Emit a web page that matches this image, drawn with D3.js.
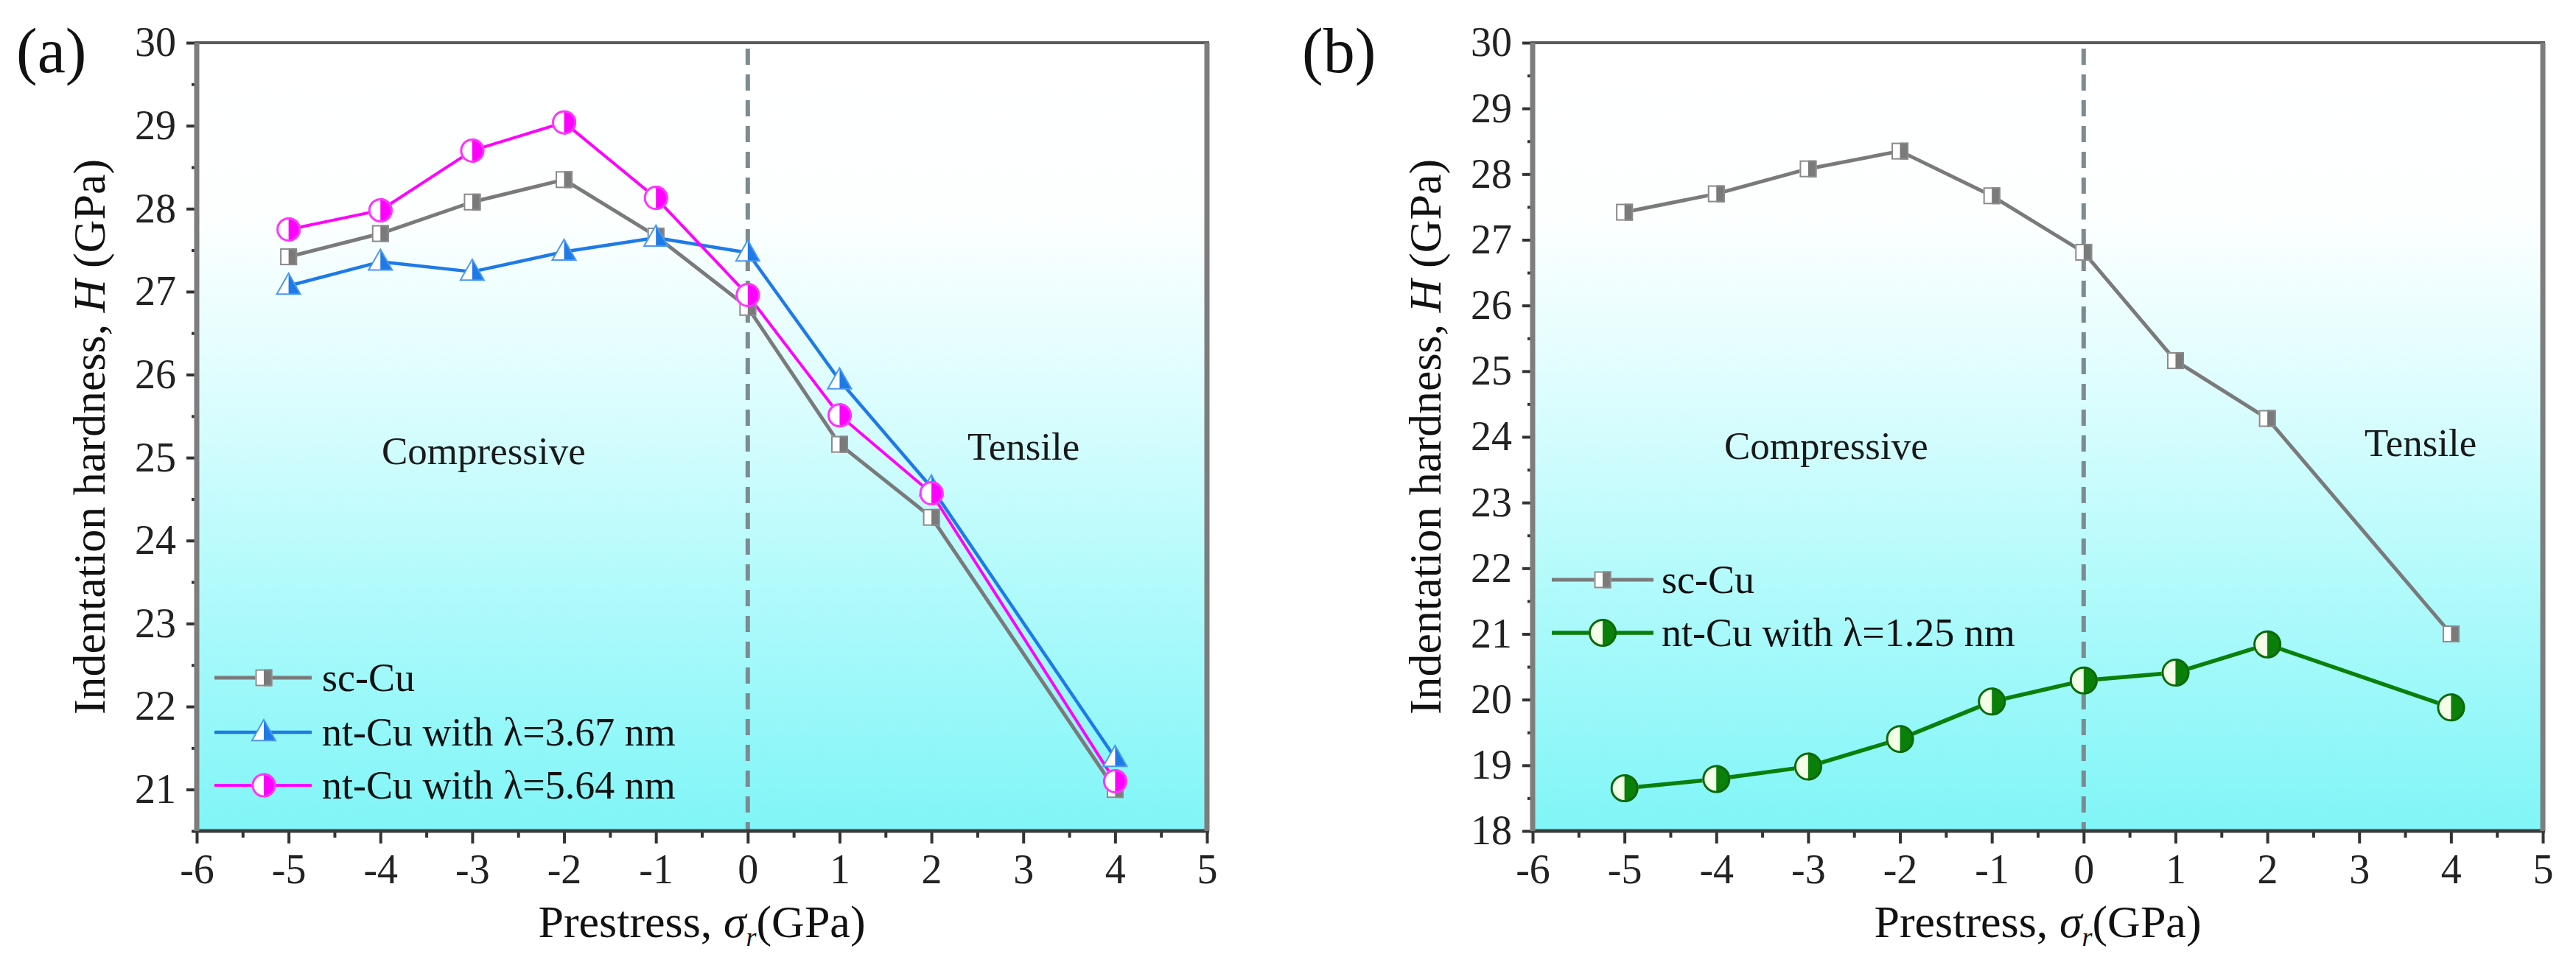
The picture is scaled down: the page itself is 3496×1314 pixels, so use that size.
<!DOCTYPE html>
<html>
<head>
<meta charset="utf-8">
<script src="https://cdn.jsdelivr.net/npm/d3@7"></script>
<style>
  html,body{margin:0;padding:0;background:#fff;}
  svg{display:block;}
</style>
</head>
<body>
<svg id="chart" width="3496" height="1314"></svg>
<script>
// ---------------- data ----------------
const prestress = [-5, -4, -3, -2, -1, 0, 1, 2, 4];
const scCu      = [27.42, 27.70, 28.08, 28.35, 27.67, 26.81, 25.16, 24.28, 21.00];
const ntCu367   = [27.07, 27.36, 27.24, 27.48, 27.65, 27.47, 25.93, 24.64, 21.38];
const ntCu564   = [27.75, 27.98, 28.70, 29.04, 28.13, 26.96, 25.51, 24.57, 21.10];
const ntCu125   = [18.65, 18.79, 18.98, 19.40, 19.97, 20.29, 20.41, 20.84, 19.88];

const xTicks = [-6, -5, -4, -3, -2, -1, 0, 1, 2, 3, 4, 5];
const yTicksA = [21, 22, 23, 24, 25, 26, 27, 28, 29, 30];
const yTicksB = [18, 19, 20, 21, 22, 23, 24, 25, 26, 27, 28, 29, 30];

const namesA = ["sc-Cu", "nt-Cu with \u03bb=3.67 nm", "nt-Cu with \u03bb=5.64 nm"];
const namesB = ["sc-Cu", "nt-Cu with \u03bb=1.25 nm"];

// ---------------- styles ----------------
const SERIF = '"Liberation Serif","Times New Roman","DejaVu Serif",serif';
const styles = {
  sc:   {color:"#7a7a7a", shape:"square",   size:23, lw:5, light:"#ffffff", outline:"#8a8a8a"},
  b367: {color:"#1e7ae6", shape:"triangle", size:32, lw:4.5, light:"#ffffff", outline:"#4a98f0"},
  m564: {color:"#ff00ff", shape:"circle",   size:33, lw:4, light:"#ffffff", outline:"#ff33ff"},
  g125: {color:"#0a800a", shape:"circle",   size:38, lw:5.5, light:"#f3ffe6", outline:"#0b6a0b"}
};

const svg = d3.select("#chart");
const defs = svg.append("defs");
const grad = defs.append("linearGradient").attr("id","bg").attr("x1",0).attr("y1",0).attr("x2",0).attr("y2",1);
[[0,"#ffffff"],[0.22,"#fdffff"],[0.45,"#dcfdfe"],[0.7,"#b0fafb"],[1,"#80f5f7"]].forEach(([o,c])=>
  grad.append("stop").attr("offset",o).attr("stop-color",c));

svg.append("rect").attr("width",3496).attr("height",1314).attr("fill","#fff");

function marker(g, st, x, y){
  const m = g.append("g").attr("transform",`translate(${x},${y})`);
  const s = st.size;
  if(st.shape==="circle"){
    const r = s/2;
    m.append("circle").attr("r",r).attr("fill",st.light);
    m.append("path").attr("d",`M0,${-r}A${r},${r} 0 0 1 0,${r}Z`).attr("fill",st.color);
    m.append("circle").attr("r",r-1.5).attr("fill","none").attr("stroke",st.outline).attr("stroke-width",3);
  } else if(st.shape==="square"){
    const h = s/2;
    m.append("rect").attr("x",-h).attr("y",-h).attr("width",s).attr("height",s).attr("fill",st.light);
    m.append("rect").attr("x",0).attr("y",-h).attr("width",h).attr("height",s).attr("fill",st.color);
    m.append("rect").attr("x",-h+1).attr("y",-h+1).attr("width",s-2).attr("height",s-2)
      .attr("fill","none").attr("stroke",st.outline).attr("stroke-width",2);
  } else {
    const w = s, hh = s*0.88;
    const top = -hh*0.6, bot = hh*0.4;
    m.append("path").attr("d",`M0,${top}L${w/2},${bot}L${-w/2},${bot}Z`).attr("fill",st.light);
    m.append("path").attr("d",`M0,${top}L${w/2},${bot}L0,${bot}Z`).attr("fill",st.color);
    m.append("path").attr("d",`M0,${top}L${w/2},${bot}L${-w/2},${bot}Z`).attr("fill","none")
      .attr("stroke",st.outline).attr("stroke-width",2);
  }
}

function panel(cfg){
  const g = svg.append("g");
  const x = d3.scaleLinear().domain([-6,5]).range([cfg.left,cfg.right]);
  const y = d3.scaleLinear().domain(cfg.yDomain).range([cfg.bottom,cfg.top]);

  g.append("rect").attr("x",cfg.left).attr("y",cfg.top)
    .attr("width",cfg.right-cfg.left).attr("height",cfg.bottom-cfg.top).attr("fill","url(#bg)");

  g.append("line").attr("x1",x(0)).attr("x2",x(0)).attr("y1",cfg.top+8).attr("y2",cfg.bottom)
    .attr("stroke","#7c8b92").attr("stroke-width",6).attr("stroke-dasharray","22,13");

  const xMinor = d3.range(-5.5,5,1);
  const xa = g.append("g").attr("transform",`translate(0,${cfg.bottom})`)
    .call(d3.axisBottom(x).tickValues(xTicks).tickSize(17).tickPadding(14).tickFormat(d3.format("d")));
  xa.select(".domain").remove();
  xa.selectAll(".tick line").attr("stroke","#333").attr("stroke-width",4);
  xa.selectAll(".tick text").attr("font-size",56).attr("fill","#222")
    .text(d=>d<0?"-"+Math.abs(d):d);
  const xm = g.append("g").attr("transform",`translate(0,${cfg.bottom})`)
    .call(d3.axisBottom(x).tickValues(xMinor).tickSize(9).tickFormat(""));
  xm.select(".domain").remove();
  xm.selectAll(".tick line").attr("stroke","#333").attr("stroke-width",4);

  const yMinor = d3.range(cfg.yDomain[0]+ (cfg.yDomain[0]%1===0?0.5:0), cfg.yDomain[1], 1);
  const ya = g.append("g").attr("transform",`translate(${cfg.left},0)`)
    .call(d3.axisLeft(y).tickValues(cfg.yTicks).tickSize(14).tickPadding(14).tickFormat(d3.format("d")));
  ya.select(".domain").remove();
  ya.selectAll(".tick line").attr("stroke","#333").attr("stroke-width",4);
  ya.selectAll(".tick text").attr("font-size",56).attr("fill","#222");
  const ym = g.append("g").attr("transform",`translate(${cfg.left},0)`)
    .call(d3.axisLeft(y).tickValues(yMinor).tickSize(7).tickFormat(""));
  ym.select(".domain").remove();
  ym.selectAll(".tick line").attr("stroke","#333").attr("stroke-width",4);

  g.append("line").attr("x1",cfg.left-3).attr("x2",cfg.right+3).attr("y1",cfg.top).attr("y2",cfg.top)
    .attr("stroke","#5a5a5a").attr("stroke-width",4);
  g.append("line").attr("x1",cfg.left-3).attr("x2",cfg.right+3).attr("y1",cfg.bottom).attr("y2",cfg.bottom)
    .attr("stroke","#3c3c3c").attr("stroke-width",5);
  g.append("line").attr("x1",cfg.left).attr("x2",cfg.left).attr("y1",cfg.top).attr("y2",cfg.bottom)
    .attr("stroke","#7d7d7d").attr("stroke-width",7);
  g.append("line").attr("x1",cfg.right).attr("x2",cfg.right).attr("y1",cfg.top).attr("y2",cfg.bottom)
    .attr("stroke","#7d7d7d").attr("stroke-width",7);

  const line = d3.line().x(d=>x(d[0])).y(d=>y(d[1]));
  cfg.series.forEach(s=>{
    const pts = prestress.map((p,i)=>[p,s.values[i]]);
    g.append("path").attr("d",line(pts)).attr("fill","none")
      .attr("stroke",s.style.color).attr("stroke-width",s.style.lw).attr("stroke-linejoin","round");
  });
  cfg.series.forEach(s=>{
    prestress.forEach((p,i)=>marker(g,s.style,x(p),y(s.values[i])));
  });

  cfg.notes.forEach(n=>{
    g.append("text").attr("x",n.x).attr("y",n.y).attr("font-size",53).attr("fill","#1a1a1a").text(n.t);
  });

  cfg.series.forEach((s,i)=>{
    const ly = cfg.legend.rows[i];
    g.append("line").attr("x1",cfg.left+cfg.legend.x1).attr("x2",cfg.left+cfg.legend.x2)
      .attr("y1",ly).attr("y2",ly).attr("stroke",s.style.color).attr("stroke-width",s.style.lw);
    marker(g,s.style,cfg.left+cfg.legend.xm,ly);
    g.append("text").attr("x",cfg.left+cfg.legend.xt).attr("y",ly).attr("dy","0.34em")
      .attr("font-size",54).attr("fill","#111").text(s.name);
  });

  const xt = g.append("text").attr("x",(cfg.left+cfg.right)/2).attr("y",1272)
    .attr("text-anchor","middle").attr("font-size",62).attr("fill","#111");
  xt.append("tspan").text("Prestress, ");
  xt.append("tspan").attr("font-style","italic").text("\u03c3");
  xt.append("tspan").attr("font-style","italic").attr("font-size",36).attr("dy",12).text("r");
  xt.append("tspan").attr("dy",-12).text("(GPa)");

  const yt = g.append("text")
    .attr("transform",`translate(${cfg.left-125},${(cfg.top+cfg.bottom)/2}) rotate(-90)`)
    .attr("text-anchor","middle").attr("font-size",62).attr("fill","#111");
  yt.append("tspan").text("Indentation hardness, ");
  yt.append("tspan").attr("font-style","italic").text("H");
  yt.append("tspan").text(" (GPa)");

  g.append("text").attr("x",cfg.labelX).attr("y",98).attr("font-size",86).attr("fill","#111").text(cfg.label);
}

panel({
  left:267, right:1638, top:58, bottom:1128,
  yDomain:[20.5,30], yTicks:yTicksA, label:"(a)", labelX:22,
  series:[
    {name:namesA[0], values:scCu,    style:styles.sc},
    {name:namesA[1], values:ntCu367, style:styles.b367},
    {name:namesA[2], values:ntCu564, style:styles.m564}
  ],
  notes:[{t:"Compressive", x:518, y:630},{t:"Tensile", x:1313, y:624}],
  legend:{rows:[920,994,1066], x1:24, x2:156, xm:91, xt:170}
});

panel({
  left:2080, right:3451, top:58, bottom:1128,
  yDomain:[18,30], yTicks:yTicksB, label:"(b)", labelX:1767,
  series:[
    {name:namesB[0], values:scCu,    style:styles.sc},
    {name:namesB[1], values:ntCu125, style:styles.g125}
  ],
  notes:[{t:"Compressive", x:2340, y:623},{t:"Tensile", x:3209, y:619}],
  legend:{rows:[787,859], x1:26, x2:164, xm:95, xt:175}
});

// force serif font on every text element
svg.selectAll("g").attr("font-family", null);
svg.selectAll("text").style("font-family", SERIF);
</script>
</body>
</html>
